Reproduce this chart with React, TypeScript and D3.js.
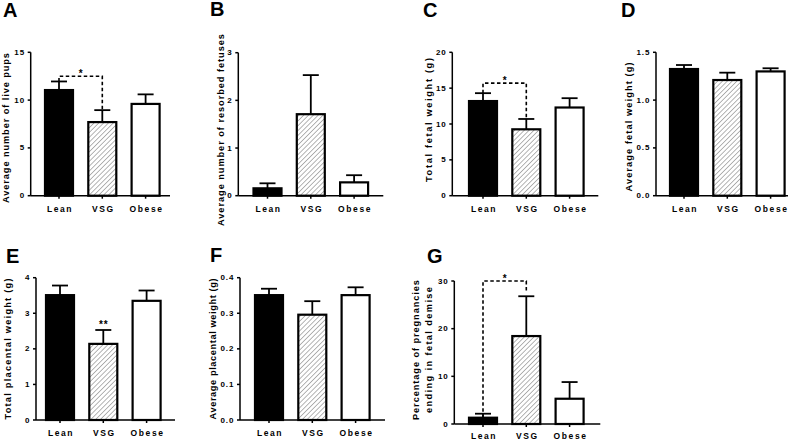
import React from "react";
import * as d3 from "d3";

const categories = ["Lean", "VSG", "Obese"];

const livePupsMean = [11.05, 7.7, 9.6];
const livePupsSem = [0.9, 1.25, 1.0];
const livePupsTicks = [0, 5, 10, 15];

const resorbedMean = [0.155, 1.71, 0.28];
const resorbedSem = [0.105, 0.82, 0.15];
const resorbedTicks = [0, 1, 2, 3];

const totalFetalMean = [13.2, 9.26, 12.3];
const totalFetalSem = [1.1, 1.44, 1.3];
const totalFetalTicks = [0, 5, 10, 15, 20];

const avgFetalMean = [1.325, 1.21, 1.3];
const avgFetalSem = [0.042, 0.077, 0.033];
const avgFetalTicks = [0, 0.5, 1.0, 1.5];

const totalPlacentalMean = [3.51, 2.14, 3.35];
const totalPlacentalSem = [0.27, 0.39, 0.29];
const totalPlacentalTicks = [0, 1, 2, 3, 4];

const avgPlacentalMean = [0.351, 0.296, 0.351];
const avgPlacentalSem = [0.018, 0.038, 0.022];
const avgPlacentalTicks = [0, 0.1, 0.2, 0.3, 0.4];

const demiseMean = [1.32, 18.45, 5.3];
const demiseSem = [0.84, 8.35, 3.5];
const demiseTicks = [0, 10, 20, 30];

type Bracket = { level: number; leftEnd: number; rightEnd: number; label: string };

type Panel = {
  letter: string;
  title: string[];
  mean: number[];
  sem: number[];
  ticks: number[];
  fmt: (v: number) => string;
  bracket?: Bracket;
  starOver?: { idx: number; label: string };
  // layout
  lx: number; ly: number;
  ox: number; y0: number; y1: number; c0: number; len: number; catY: number;
  tx: number[]; ty: number; tlen: number[];
};

const f0 = (v: number) => d3.format("d")(v);
const f1 = (v: number) => d3.format(".1f")(v);

const panels: Panel[] = [
  {
    letter: "A", title: ["Average number of live pups"], mean: livePupsMean, sem: livePupsSem,
    ticks: livePupsTicks, fmt: f0,
    bracket: { level: 12.5, leftEnd: 11.95, rightEnd: 8.95, label: "*" },
    lx: 3, ly: 17, ox: 30.7, y0: 195.7, y1: 52.3, c0: 59, len: 139.3, catY: 212,
    tx: [5.5], ty: 128, tlen: [150],
  },
  {
    letter: "B", title: ["Average number of resorbed fetuses"], mean: resorbedMean, sem: resorbedSem,
    ticks: resorbedTicks, fmt: f0,
    lx: 210, ly: 16, ox: 238.3, y0: 195.7, y1: 52.7, c0: 267.5, len: 145, catY: 212,
    tx: [220.5], ty: 130, tlen: [192],
  },
  {
    letter: "C", title: ["Total fetal weight (g)"], mean: totalFetalMean, sem: totalFetalSem,
    ticks: totalFetalTicks, fmt: f0,
    bracket: { level: 15.7, leftEnd: 14.3, rightEnd: 10.7, label: "*" },
    lx: 423, ly: 17, ox: 452.3, y0: 195.7, y1: 52.3, c0: 483, len: 146, catY: 212,
    tx: [428.5], ty: 120, tlen: [124],
  },
  {
    letter: "D", title: ["Average fetal weight (g)"], mean: avgFetalMean, sem: avgFetalSem,
    ticks: avgFetalTicks, fmt: f1,
    lx: 621, ly: 17, ox: 656, y0: 195.7, y1: 52.3, c0: 684, len: 132, catY: 212,
    tx: [628.5], ty: 127, tlen: [129],
  },
  {
    letter: "E", title: ["Total placental weight (g)"], mean: totalPlacentalMean, sem: totalPlacentalSem,
    ticks: totalPlacentalTicks, fmt: f0,
    starOver: { idx: 1, label: "**" },
    lx: 6, ly: 263, ox: 36, y0: 420, y1: 277.7, c0: 60, len: 139, catY: 436,
    tx: [7.5], ty: 349, tlen: [141],
  },
  {
    letter: "F", title: ["Average placental weight (g)"], mean: avgPlacentalMean, sem: avgPlacentalSem,
    ticks: avgPlacentalTicks, fmt: f1,
    lx: 210, ly: 262, ox: 240, y0: 420, y1: 277.7, c0: 269, len: 145, catY: 436,
    tx: [212.5], ty: 349, tlen: [141],
  },
  {
    letter: "G", title: ["Percentage of pregnancies", "ending in fetal demise"], mean: demiseMean, sem: demiseSem,
    ticks: demiseTicks, fmt: f0,
    bracket: { level: 30, leftEnd: 1.32, rightEnd: 27.9, label: "*" },
    lx: 427, ly: 263, ox: 454.3, y0: 424, y1: 281, c0: 483, len: 146, catY: 438.5,
    tx: [416, 428.5], ty: 350, tlen: [140, 126],
  },
];

const FONT = "'Liberation Sans', Arial, sans-serif";
const STEP = 43.3;
const BAR_W = 28;
const CAP = 8;

function PanelView({ p }: { p: Panel }) {
  const maxT = p.ticks[p.ticks.length - 1];
  const y = d3.scaleLinear().domain([0, maxT]).range([p.y0, p.y1]);
  const x = d3.scalePoint<string>().domain(categories).range([p.c0, p.c0 + STEP * (categories.length - 1)]);
  const fills = ["#000", "url(#hatch)", "#fff"];
  return (
    <g>
      <text x={p.lx} y={p.ly} fontFamily={FONT} fontWeight="bold" fontSize={20}>{p.letter}</text>
      {p.title.map((t, i) => (
        <text key={i} transform={`translate(${p.tx[i]},${p.ty}) rotate(-90)`} textAnchor="middle"
          dominantBaseline="central" fontFamily={FONT} fontWeight="bold" fontSize={9.2}
          textLength={p.tlen[i]} lengthAdjust="spacing">{t}</text>
      ))}
      {categories.map((c, i) => {
        const cx = x(c)!;
        const top = y(p.mean[i]);
        const et = y(p.mean[i] + p.sem[i]);
        return (
          <g key={c}>
            <line x1={cx} x2={cx} y1={top} y2={et} stroke="#000" strokeWidth={1.8} />
            <line x1={cx - CAP} x2={cx + CAP} y1={et} y2={et} stroke="#000" strokeWidth={1.8} />
            <rect x={cx - BAR_W / 2} y={top} width={BAR_W} height={p.y0 - top} fill={fills[i]}
              stroke="#000" strokeWidth={2.2} />
            <line x1={cx} x2={cx} y1={p.y0} y2={p.y0 + 3} stroke="#000" strokeWidth={1.5} />
            <text x={cx + 1} y={p.catY} textAnchor="middle" fontFamily={FONT} fontWeight="bold"
              fontSize={8.5} letterSpacing={1.6}>{c}</text>
          </g>
        );
      })}
      <line x1={p.ox} x2={p.ox} y1={p.y1} y2={p.y0} stroke="#000" strokeWidth={1.5} />
      <line x1={p.ox} x2={p.ox + p.len} y1={p.y0} y2={p.y0} stroke="#000" strokeWidth={1.5} />
      {p.ticks.map((t) => (
        <g key={t}>
          <line x1={p.ox - 3} x2={p.ox} y1={y(t)} y2={y(t)} stroke="#000" strokeWidth={1.5} />
          <text x={p.ox - 5.5} y={y(t)} textAnchor="end" dominantBaseline="central" fontFamily={FONT}
            fontWeight="bold" fontSize={8} letterSpacing={1}>{p.fmt(t)}</text>
        </g>
      ))}
      {p.bracket && (() => {
        const b = p.bracket!;
        const xl = x(categories[0])!;
        const xr = x(categories[1])!;
        const yl = y(b.level);
        return (
          <g>
            <path d={`M${xl},${y(b.leftEnd)}V${yl}H${xr}V${y(b.rightEnd)}`} fill="none" stroke="#000"
              strokeWidth={1.6} strokeDasharray="3.5,2.5" />
            <text x={(xl + xr) / 2} y={yl + 0.5} textAnchor="middle" fontFamily={FONT} fontWeight="bold"
              fontSize={10}>{b.label}</text>
          </g>
        );
      })()}
      {p.starOver && (() => {
        const s = p.starOver!;
        const cx = x(categories[s.idx])!;
        const et = y(p.mean[s.idx] + p.sem[s.idx]);
        return (
          <text x={cx + 0.5} y={et - 1.5} textAnchor="middle" fontFamily={FONT} fontWeight="bold"
            fontSize={10} letterSpacing={1}>{s.label}</text>
        );
      })()}
    </g>
  );
}

export default function App() {
  return (
    <div style={{ position: "absolute", left: 0, top: 0 }}>
      <svg width={800} height={440} style={{ display: "block", background: "#fff" }}>
        <defs>
          <pattern id="hatch" patternUnits="userSpaceOnUse" width={3.4} height={3.4}
            patternTransform="rotate(45)">
            <rect width={3.4} height={3.4} fill="#fff" />
            <line x1={0} y1={0} x2={0} y2={3.4} stroke="#a8a8a8" strokeWidth={1.7} />
          </pattern>
        </defs>
        <rect width={800} height={440} fill="#fff" />
        {panels.map((p) => <PanelView key={p.letter} p={p} />)}
      </svg>
    </div>
  );
}
